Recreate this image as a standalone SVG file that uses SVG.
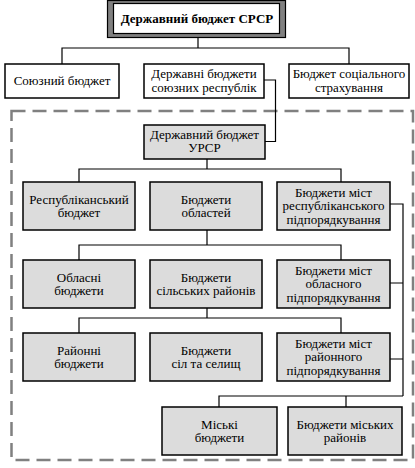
<svg xmlns="http://www.w3.org/2000/svg" width="415" height="468" viewBox="0 0 415 468">
<style>
.b{fill:#ffffff;stroke:#000;stroke-width:1.5}
.g{fill:#dcdcdc;stroke:#000;stroke-width:1.5}
.l{fill:none;stroke:#000;stroke-width:1.2}
text{font-size:13px;fill:#000;text-anchor:middle}
.t{font-weight:bold}
</style>
<rect x="0" y="0" width="415" height="468" fill="#fff"/>
<rect x="11.5" y="111" width="401.5" height="349" fill="none" stroke="#808080" stroke-width="2.5" stroke-dasharray="14 7"/>
<g id="connectors">
<path class="l" d="M198 37V48M62 64V48H349V64"/>
<path class="l" d="M264 80H275.5V141.5H265"/>
<path class="l" d="M207 159V169M79 182V169H341V182"/>
<path class="l" d="M207 230V245M79 260V245H341V260"/>
<path class="l" d="M207 308V318M79 333V318H341V333"/>
<path class="l" d="M390 204H403V396M390 283H403M390 359H403"/>
<path class="l" d="M219 407V396H403M346 396V407"/>
</g>
<g font-family="Liberation Serif, Times New Roman, serif">
<g id="n0">
<rect x="107.5" y="0.5" width="178" height="37" fill="#808080" stroke="#000" stroke-width="1.2"/>
<rect x="113.5" y="3.5" width="166" height="30" fill="#fff" stroke="#000" stroke-width="1.2"/>
<text class="t" x="197" y="23">Державний бюджет СРСР</text>
</g>
<g id="n1"><rect class="b" x="5" y="64" width="114" height="34"/><text x="62" y="85">Союзний бюджет</text></g>
<g id="n2"><rect class="b" x="144" y="64" width="120" height="34"/><text x="204" y="78">Державні бюджети</text><text x="204" y="91.5">союзних республік</text></g>
<g id="n3"><rect class="b" x="289" y="64" width="120" height="34"/><text x="349" y="78">Бюджет соціального</text><text x="349" y="91.5">страхування</text></g>
<g id="n4"><rect class="g" x="144" y="125" width="121" height="34"/><text x="204.5" y="138.5">Державний бюджет</text><text x="204.5" y="152">УРСР</text></g>
<g id="n5"><rect class="g" x="23" y="182" width="112" height="48"/><text x="79" y="203.5">Республіканський</text><text x="79" y="217">бюджет</text></g>
<g id="n6"><rect class="g" x="150" y="182" width="112" height="48"/><text x="206" y="203.5">Бюджети</text><text x="206" y="217">областей</text></g>
<g id="n7"><rect class="g" x="277" y="182" width="113" height="48"/><text x="333.5" y="196.5">Бюджети міст</text><text x="333.5" y="210">республіканського</text><text x="333.5" y="223.5">підпорядкування</text></g>
<g id="n8"><rect class="g" x="23" y="260" width="112" height="48"/><text x="79" y="281.5">Обласні</text><text x="79" y="295">бюджети</text></g>
<g id="n9"><rect class="g" x="150" y="260" width="112" height="48"/><text x="206" y="281.5">Бюджети</text><text x="206" y="295">сільських районів</text></g>
<g id="n10"><rect class="g" x="277" y="260" width="113" height="48"/><text x="333.5" y="274.5">Бюджети міст</text><text x="333.5" y="288">обласного</text><text x="333.5" y="301.5">підпорядкування</text></g>
<g id="n11"><rect class="g" x="23" y="333" width="112" height="48"/><text x="79" y="354.5">Районні</text><text x="79" y="368">бюджети</text></g>
<g id="n12"><rect class="g" x="150" y="333" width="112" height="48"/><text x="206" y="354.5">Бюджети</text><text x="206" y="368">сіл та селищ</text></g>
<g id="n13"><rect class="g" x="277" y="333" width="113" height="48"/><text x="333.5" y="347.5">Бюджети міст</text><text x="333.5" y="361">районного</text><text x="333.5" y="374.5">підпорядкування</text></g>
<g id="n14"><rect class="g" x="162" y="407" width="115" height="48"/><text x="219.5" y="428.5">Міські</text><text x="219.5" y="442">бюджети</text></g>
<g id="n15"><rect class="g" x="288" y="407" width="114" height="48"/><text x="345" y="428.5">Бюджети міських</text><text x="345" y="442">районів</text></g>
</g>
</svg>
